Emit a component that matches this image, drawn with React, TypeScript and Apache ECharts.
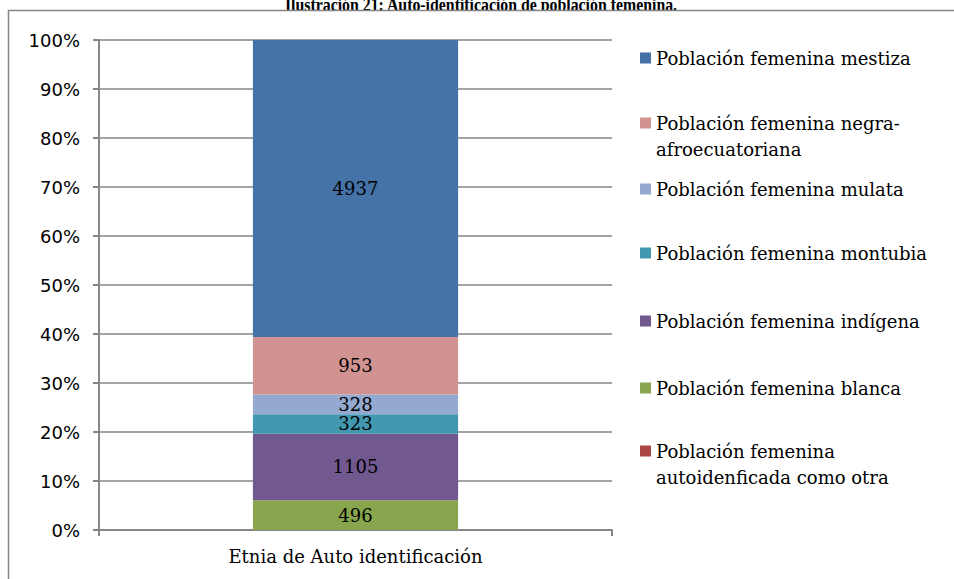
import React, { useEffect, useRef } from "react";
import * as echarts from "echarts";

const categories = ["Etnia de Auto identificación"];
const seriesNames = [
  "Población femenina autoidenficada como otra",
  "Población femenina blanca",
  "Población femenina indígena",
  "Población femenina montubia",
  "Población femenina mulata",
  "Población femenina negra-afroecuatoriana",
  "Población femenina mestiza",
];
const seriesValues = [0, 496, 1105, 323, 328, 953, 4937];
const seriesColors = ["#AA4643", "#89A54E", "#71588F", "#4198AF", "#93A9CF", "#D09392", "#4572A7"];
const legendLabels = [
  "Población femenina\nautoidenficada como otra",
  "Población femenina blanca",
  "Población femenina indígena",
  "Población femenina montubia",
  "Población femenina mulata",
  "Población femenina negra-\nafroecuatoriana",
  "Población femenina mestiza",
];
const legendCenters = [451, 388, 321, 253, 189, 123, 58];
const yTicks = [0, 10, 20, 30, 40, 50, 60, 70, 80, 90, 100];
const titleText = "Ilustración 21: Auto-identificación de población femenina.";

const SERIF = "'DejaVu Serif', serif";
const SANS = "'DejaVu Sans', sans-serif";

export default function App() {
  const ref = useRef<HTMLDivElement>(null);
  useEffect(() => {
    document.body.style.margin = "0";
    const chart = echarts.init(ref.current!, null, { renderer: "svg" });
    const total = seriesValues.reduce((a, b) => a + b, 0);
    const LH = 26;
    const legends = seriesNames.map((name, i) => {
      const twoLine = legendLabels[i].includes("\n");
      return {
        show: true,
        orient: "vertical",
        left: 640,
        top: twoLine ? legendCenters[i] - 39 : legendCenters[i] - LH / 2,
        padding: 0,
        itemWidth: 11,
        itemHeight: 11,
        icon: "rect",
        selectedMode: false,
        data: [name],
        formatter: () => (twoLine ? " \n" + legendLabels[i] : legendLabels[i]),
        textStyle: {
          fontFamily: SERIF,
          fontSize: 18,
          color: "#000",
          lineHeight: LH,
        },
      };
    });
    chart.setOption({
      animation: false,
      backgroundColor: "#fff",
      grid: { left: 99, right: 342, top: 40, bottom: 49, containLabel: false },
      legend: legends,
      xAxis: {
        type: "category",
        data: categories,
        axisLine: { lineStyle: { color: "#868686", width: 2 } },
        axisTick: { show: true, length: 6, lineStyle: { color: "#868686", width: 2 } },
        axisLabel: { fontFamily: SERIF, fontSize: 18, color: "#000", margin: 17 },
      },
      yAxis: {
        type: "value",
        min: 0,
        max: 100,
        interval: 10,
        axisLine: { show: true, lineStyle: { color: "#868686", width: 2 } },
        axisTick: { show: true, length: 6, lineStyle: { color: "#868686", width: 2 } },
        splitLine: { lineStyle: { color: "#868686", width: 1.5 } },
        axisLabel: {
          fontFamily: SANS,
          fontSize: 18,
          color: "#000",
          margin: 19,
          customValues: yTicks,
          formatter: (v: number) => `${v}%`,
        },
      },
      series: seriesNames.map((name, i) => ({
        name,
        type: "bar",
        stack: "total",
        barWidth: "40%",
        itemStyle: { color: seriesColors[i] },
        label: {
          show: seriesValues[i] > 0,
          position: "inside",
          color: "#000",
          fontFamily: SERIF,
          fontSize: 18,
          formatter: () => String(seriesValues[i]),
        },
        data: [(seriesValues[i] / total) * 100],
      })),
      graphic: [
        {
          type: "text",
          z: -20,
          x: 481,
          y: 14,
          scaleX: 0.88,
          style: {
            text: titleText,
            fontFamily: "'Liberation Serif', serif",
            fontWeight: "bold",
            fontSize: 18,
            fill: "#000",
            align: "center",
            verticalAlign: "bottom",
          },
        },
        {
          type: "rect",
          z: -10,
          shape: { x: 8.5, y: 10.5, width: 960, height: 600 },
          style: { fill: "#fff", stroke: "#868686", lineWidth: 1.5 },
        },
      ],
    });
    return () => chart.dispose();
  }, []);
  return <div ref={ref} style={{ width: 954, height: 579 }} />;
}
